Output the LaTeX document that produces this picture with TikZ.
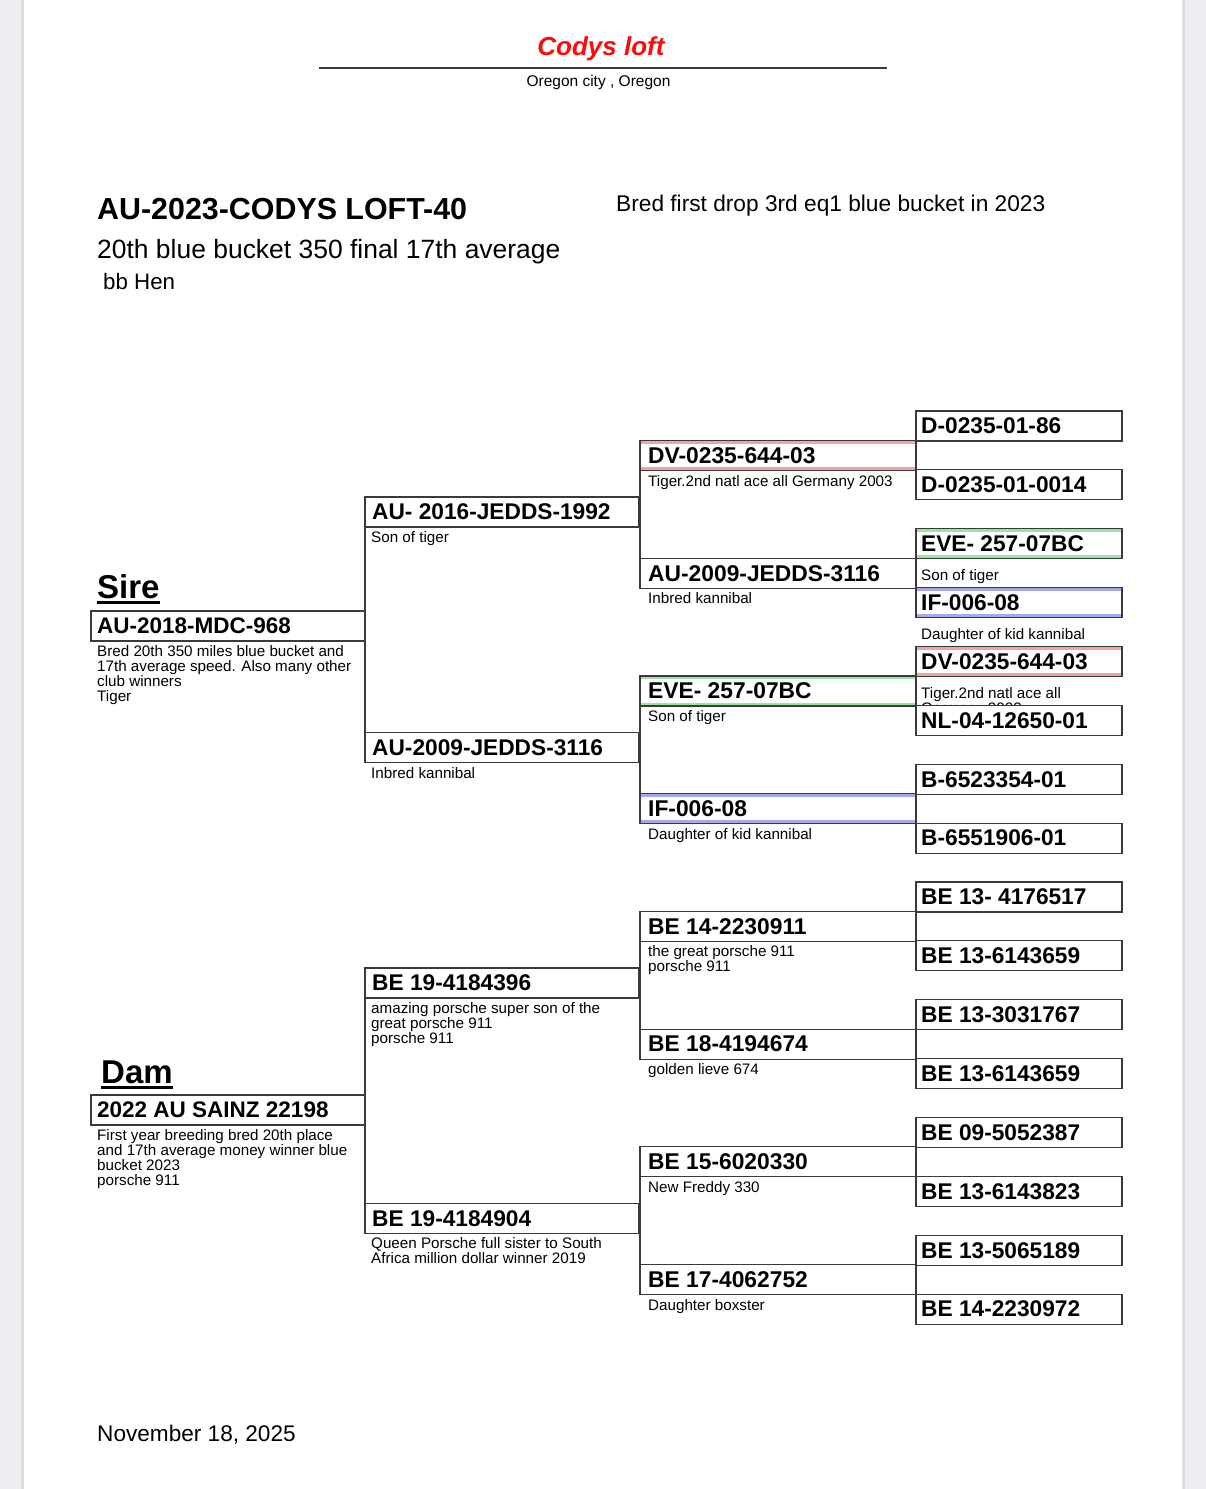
\documentclass[tikz,border=0pt]{standalone}
\usepackage{fontspec}
\setmainfont{Liberation Sans}
\definecolor{ln}{HTML}{3A3A3A}
\definecolor{pagebg}{HTML}{EDEDF2}
\definecolor{pageedge}{HTML}{DCDCE3}
\definecolor{bandred}{HTML}{F3A3A6}
\definecolor{bandgreen}{HTML}{9BE69B}
\definecolor{bandblue}{HTML}{A7A7EE}
\definecolor{titlered}{HTML}{FF0A0A}
\newcommand\pedbox[7]{%
  \node[pbox, minimum width=#4pt] (#1) at (#2,#3) {};
  \node[btxt, font=\fontsize{#6}{#6}\selectfont\bfseries] (#1t) at ([xshift=#7pt]#1.west) {#5};}
\newcommand\bandbox[8]{%
  \pedbox{#1}{#2}{#3}{#4}{#5}{#6}{#7}
  \draw[#8, line width=2.6pt] ([xshift=0.6pt,yshift=-2pt]#1.north west) -- ([xshift=-0.6pt,yshift=-2pt]#1.north east);
  \draw[#8, line width=2.6pt] ([xshift=0.6pt,yshift=2pt]#1.south west) -- ([xshift=-0.6pt,yshift=2pt]#1.south east);}
\newcommand\desctext[4]{\node[desc] (#1) at (#2,#3) {#4};}
\begin{document}
\begin{tikzpicture}[x=1pt,y=-1pt,
  pbox/.style={draw=ln, line width=1.1pt, fill=white, minimum height=30pt, inner sep=0pt, outer sep=0pt, anchor=north west},
  btxt/.style={inner sep=0pt, anchor=west},
  desc/.style={font=\fontsize{15.2}{15}\selectfont, inner sep=0pt, anchor=north west, align=left},
  conn/.style={draw=ln, line width=1.1pt},
  plain/.style={inner sep=0pt, anchor=base west}]
\useasboundingbox (0,0) rectangle (1206,1489);
% page
\fill[pagebg] (0,0) rectangle (1206,1489);
\fill[pageedge] (21,0) rectangle (1185,1489);
\fill[white] (24,0) rectangle (1182,1489);
% header
\node[inner sep=0pt, anchor=base, text=titlered, font=\fontsize{26}{26}\selectfont\bfseries\itshape] (title) at (601,55) {Codys loft};
\coordinate (ruleL) at (319,68);
\coordinate (ruleR) at (887,68);
\draw[ln, line width=2.2pt] (ruleL) -- (ruleR);
\node[inner sep=0pt, anchor=base, font=\fontsize{15.5}{15.5}\selectfont] (city) at (598.5,86.5) {Oregon city , Oregon};
\node[plain, font=\fontsize{30.4}{30.4}\selectfont\bfseries] (ring) at (97,219) {AU-2023-CODYS LOFT-40};
\node[plain, font=\fontsize{22.7}{22.7}\selectfont] (bred) at (616,211) {Bred first drop 3rd eq1 blue bucket in 2023};
\node[plain, font=\fontsize{26.45}{26.45}\selectfont] (ach) at (97,258) {20th blue bucket 350 final 17th average};
\node[plain, font=\fontsize{22.3}{22.3}\selectfont] (sex) at (103,289) {bb Hen};
% Sire / Dam labels
\node[plain, font=\fontsize{33}{33}\selectfont\bfseries] (sirelbl) at (97,598) {Sire};
\draw[black, line width=2.4pt] ([yshift=-4.5pt]sirelbl.base west) -- ([yshift=-4.5pt]sirelbl.base east);
\node[plain, font=\fontsize{33}{33}\selectfont\bfseries] (damlbl) at (101,1083) {Dam};
\draw[black, line width=2.4pt] ([yshift=-4.5pt]damlbl.base west) -- ([yshift=-4.5pt]damlbl.base east);
% generation 1
\pedbox{sire}{91}{611}{274}{AU-2018-MDC-968}{22.5}{6}
\desctext{sired}{97}{645}{Bred 20th 350 miles blue bucket and\\17th average speed. Also many other\\club winners\\Tiger}
\pedbox{dam}{91}{1095}{274}{2022 AU SAINZ 22198}{22.5}{6}
\desctext{damd}{97}{1129}{First year breeding bred 20th place\\and 17th average money winner blue\\bucket 2023\\porsche 911}
% generation 2
\pedbox{ga}{365}{497}{274}{AU- 2016-JEDDS-1992}{22.7}{7}
\desctext{gad}{371}{531.5}{Son of tiger}
\pedbox{gb}{365}{732.5}{274}{AU-2009-JEDDS-3116}{22.7}{7}
\desctext{gbd}{371}{767}{Inbred kannibal}
\pedbox{gc}{365}{968}{274}{BE 19-4184396}{22.7}{7}
\desctext{gcd}{371}{1002}{amazing porsche super son of the\\great porsche 911\\porsche 911}
\pedbox{gd}{365}{1203.4}{274}{BE 19-4184904}{22.7}{7}
\desctext{gdd}{371}{1237.5}{Queen Porsche full sister to South\\Africa million dollar winner 2019}
% generation 3
\bandbox{ha}{640}{440.5}{276}{DV-0235-644-03}{22.8}{8}{bandred}
\desctext{had}{648}{475}{Tiger.2nd natl ace all Germany 2003}
\pedbox{hb}{640}{558.2}{276}{AU-2009-JEDDS-3116}{22.8}{8}
\desctext{hbd}{648}{592.7}{Inbred kannibal}
\bandbox{hc}{640}{676}{276}{EVE- 257-07BC}{22.8}{8}{bandgreen}
\desctext{hcd}{648}{710.5}{Son of tiger}
\bandbox{hd}{640}{793.7}{276}{IF-006-08}{22.8}{8}{bandblue}
\desctext{hdd}{648}{828.2}{Daughter of kid kannibal}
\pedbox{he}{640}{911.4}{276}{BE 14-2230911}{22.8}{8}
\desctext{hed}{648}{945.5}{the great porsche 911\\porsche 911}
\pedbox{hf}{640}{1029.1}{276}{BE 18-4194674}{22.8}{8}
\desctext{hfd}{648}{1063.6}{golden lieve 674}
\pedbox{hg}{640}{1146.8}{276}{BE 15-6020330}{22.8}{8}
\desctext{hgd}{648}{1181.3}{New Freddy 330}
\pedbox{hh}{640}{1264.6}{276}{BE 17-4062752}{22.8}{8}
\desctext{hhd}{648}{1299}{Daughter boxster}
% generation 4
\pedbox{ka}{916}{411}{206}{D-0235-01-86}{22.7}{5}
\pedbox{kb}{916}{469.9}{206}{D-0235-01-0014}{22.7}{5}
\bandbox{kc}{916}{528.7}{206}{EVE- 257-07BC}{22.7}{5}{bandgreen}
\desctext{kcd}{921}{569.5}{Son of tiger}
\bandbox{kd}{916}{587.6}{206}{IF-006-08}{22.7}{5}{bandblue}
\desctext{kdd}{921}{628}{Daughter of kid kannibal}
\bandbox{ke}{916}{646.5}{206}{DV-0235-644-03}{22.7}{5}{bandred}
\desctext{ked}{921}{687}{Tiger.2nd natl ace all\\Germany 2003}
\pedbox{kf}{916}{705.4}{206}{NL-04-12650-01}{22.7}{5}
\pedbox{kg}{916}{764.2}{206}{B-6523354-01}{22.7}{5}
\pedbox{kh}{916}{823.1}{206}{B-6551906-01}{22.7}{5}
\pedbox{ki}{916}{882}{206}{BE 13- 4176517}{22.7}{5}
\pedbox{kj}{916}{940.8}{206}{BE 13-6143659}{22.7}{5}
\pedbox{kk}{916}{999.7}{206}{BE 13-3031767}{22.7}{5}
\pedbox{kl}{916}{1058.6}{206}{BE 13-6143659}{22.7}{5}
\pedbox{km}{916}{1117.4}{206}{BE 09-5052387}{22.7}{5}
\pedbox{kn}{916}{1176.3}{206}{BE 13-6143823}{22.7}{5}
\pedbox{ko}{916}{1235.2}{206}{BE 13-5065189}{22.7}{5}
\pedbox{kp}{916}{1294.1}{206}{BE 14-2230972}{22.7}{5}
% connectors
\draw[conn] (ga.south west) -- (gb.north west);
\draw[conn] (gc.south west) -- (gd.north west);
\draw[conn] (ha.south west) -- (hb.north west);
\draw[conn] (hc.south west) -- (hd.north west);
\draw[conn] (he.south west) -- (hf.north west);
\draw[conn] (hg.south west) -- (hh.north west);
\draw[conn] (ka.south west) -- (kb.north west);
\draw[conn] (kc.south west) -- (kd.north west);
\draw[conn] (ke.south west) -- (kf.north west);
\draw[conn] (kg.south west) -- (kh.north west);
\draw[conn] (ki.south west) -- (kj.north west);
\draw[conn] (kk.south west) -- (kl.north west);
\draw[conn] (km.south west) -- (kn.north west);
\draw[conn] (ko.south west) -- (kp.north west);
% date
\node[plain, font=\fontsize{22.6}{22.6}\selectfont] (date) at (97,1441.5) {November 18, 2025};
\end{tikzpicture}
\end{document}
